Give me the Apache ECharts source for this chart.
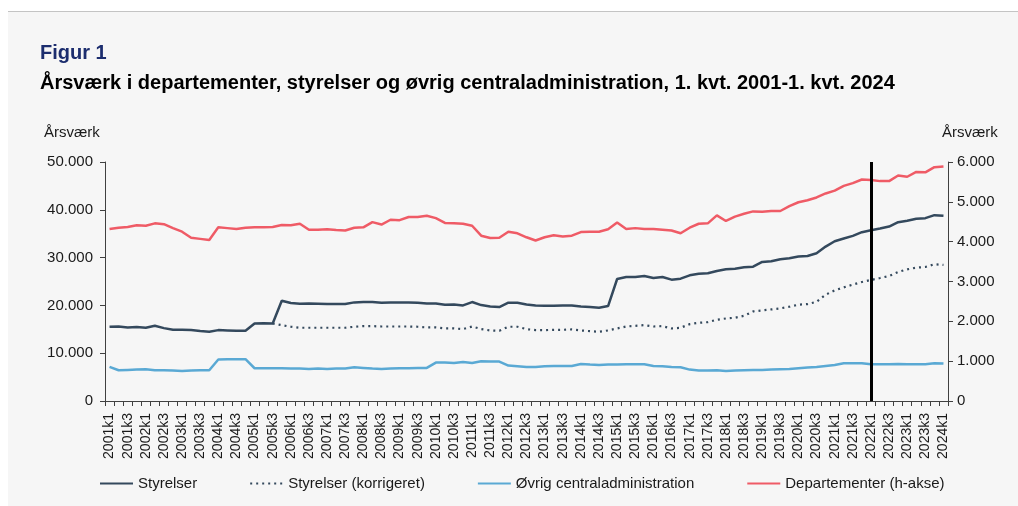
<!DOCTYPE html>
<html>
<head>
<meta charset="utf-8">
<script src="https://cdn.jsdelivr.net/npm/echarts@6/dist/echarts.min.js"></script>
<style>
html,body{margin:0;padding:0;background:#fff;}
#chart{width:1018px;height:506px;}
</style>
</head>
<body>
<div id="chart"></div>
<script>
const years = [];
for (let y = 2001; y <= 2024; y++) years.push(y);
const quarters = ['k1','k2','k3','k4'];
const categories = [];
years.forEach(y => quarters.forEach(q => { if (!(y === 2024 && q !== 'k1')) categories.push(y + q); }));

const styrelser = [
  15530, 15590, 15390, 15460, 15320, 15730, 15250, 14900, 14900, 14830, 14620, 14480, 14830, 14760, 14690, 14690, 16220, 16290, 16220, 20980, 20490, 20350, 20420,
  20350, 20280, 20280, 20280, 20630, 20700, 20700, 20560, 20630, 20630, 20630, 20560, 20420, 20420, 20140, 20210, 20000, 20700, 20070, 19790, 19650, 20560, 20560,
  20210, 20000, 19930, 19930, 20000, 20000, 19790, 19650, 19510, 19860, 25520, 25940, 25940, 26150, 25730, 25940, 25390, 25590, 26290, 26640, 26710, 27200, 27550,
  27690, 27970, 28110, 29090, 29230, 29650, 29860, 30210, 30350, 30910, 32310, 33430, 33990, 34550, 35320, 35730, 36080, 36500, 37410, 37690, 38110, 38250, 38880, 38740
];
const styrelserKorr = [
  '-', '-', '-', '-', '-', '-', '-', '-', '-', '-', '-', '-', '-', '-', '-', '-', '-', '-', 16220, 15870, 15530, 15320, 15320,
  15320, 15320, 15320, 15320, 15530, 15660, 15660, 15590, 15590, 15590, 15590, 15530, 15390, 15390, 15180, 15180, 15040, 15590, 15040, 14760, 14690, 15530, 15530,
  15040, 14830, 14830, 14900, 14900, 14970, 14760, 14620, 14480, 14760, 15180, 15590, 15730, 15870, 15590, 15660, 15180, 15320, 16080, 16360, 16500, 16990, 17270,
  17410, 17830, 18740, 18950, 19160, 19370, 19720, 20140, 20280, 20770, 22240, 23150, 23780, 24340, 24900, 25320, 25730, 26150, 26990, 27550, 27900, 28040, 28600, 28460
];
const oevrig = [
  7130, 6430, 6500, 6570, 6640, 6430, 6430, 6360, 6290, 6360, 6430, 6430, 8670, 8740, 8740, 8740, 6850, 6850, 6850, 6850, 6780, 6780, 6710,
  6780, 6710, 6780, 6780, 7060, 6920, 6780, 6710, 6780, 6850, 6850, 6920, 6920, 8040, 8040, 7970, 8180, 7970, 8320, 8250, 8250, 7410, 7270,
  7130, 7130, 7270, 7340, 7340, 7340, 7760, 7620, 7550, 7620, 7620, 7690, 7690, 7690, 7340, 7270, 7130, 7060, 6570, 6360, 6360, 6430, 6290,
  6360, 6430, 6500, 6500, 6570, 6640, 6710, 6850, 6990, 7130, 7340, 7550, 7900, 7900, 7900, 7690, 7690, 7690, 7760, 7690, 7690, 7690, 7900, 7830
];
const departementer = [
  4320, 4350, 4370, 4410, 4400, 4460, 4440, 4340, 4250, 4100, 4070, 4040, 4360, 4340, 4320, 4350, 4360, 4360, 4370, 4420, 4410, 4450, 4300,
  4300, 4310, 4290, 4280, 4350, 4360, 4490, 4430, 4550, 4540, 4620, 4620, 4650, 4590, 4470, 4460, 4450, 4400, 4150, 4090, 4100, 4250, 4210,
  4110, 4030, 4110, 4160, 4130, 4150, 4240, 4250, 4250, 4310, 4480, 4320, 4340, 4320, 4320, 4300, 4280, 4210, 4350, 4450, 4460, 4660, 4520,
  4630, 4700, 4760, 4750, 4770, 4770, 4890, 4990, 5040, 5110, 5210, 5280, 5400, 5470, 5560, 5550, 5520, 5520, 5660, 5630, 5750, 5740, 5870, 5890
];
const markerCategory = '2022k1';
const seriesNames = ['Styrelser', 'Styrelser (korrigeret)', 'Øvrig centraladministration', 'Departementer (h-akse)'];

const FONT = '"Liberation Sans", Arial, sans-serif';
const axisColor = '#404040';
const textColor = '#1a1a1a';
const fmt = v => String(v).replace(/\B(?=(\d{3})+(?!\d))/g, '.');

const chart = echarts.init(document.getElementById('chart'), null, {renderer: 'canvas'});
chart.setOption({
  animation: false,
  backgroundColor: '#ffffff',
  textStyle: {fontFamily: FONT},
  graphic: [
    {type: 'rect', z: -10, shape: {x: 8, y: 11, width: 1010, height: 495}, style: {fill: '#f6f6f6'}},
    {type: 'line', z: -9, shape: {x1: 8, y1: 11.5, x2: 1018, y2: 11.5}, style: {stroke: '#c4c4c4', lineWidth: 1}},
    {type: 'text', left: 40, top: 43, style: {text: 'Figur 1', font: 'bold 20px ' + FONT, fill: '#1c2d6e'}},
    {type: 'text', left: 40, top: 73, style: {text: 'Årsværk i departementer, styrelser og øvrig centraladministration, 1. kvt. 2001-1. kvt. 2024', font: 'bold 20px ' + FONT, fill: '#000'}},
    {type: 'text', left: 44, top: 125, style: {text: 'Årsværk', font: '15px ' + FONT, fill: textColor}},
    {type: 'text', left: 942, top: 125, style: {text: 'Årsværk', font: '15px ' + FONT, fill: textColor}}
  ],
  legend: {
    bottom: 10,
    left: 94,
    itemGap: 52,
    itemWidth: 33,
    itemHeight: 10,
    itemStyle: {opacity: 0},
    textStyle: {fontSize: 15, color: textColor, fontFamily: FONT},
    data: seriesNames
  },
  grid: {left: 105, right: 70, top: 162, bottom: 105, containLabel: false},
  xAxis: {
    type: 'category',
    data: categories,
    boundaryGap: true,
    axisLine: {lineStyle: {color: axisColor, width: 1}},
    axisTick: {show: true, interval: 0, length: 5, lineStyle: {color: axisColor}},
    axisLabel: {interval: 1, rotate: 90, fontSize: 14, color: textColor, margin: 12, fontFamily: FONT},
    splitLine: {show: false}
  },
  yAxis: [
    {
      type: 'value', min: 0, max: 50000, interval: 10000, position: 'left',
      axisLine: {show: true, lineStyle: {color: axisColor}},
      axisTick: {show: true, length: 5, lineStyle: {color: axisColor}},
      axisLabel: {fontSize: 15, color: textColor, margin: 12, formatter: fmt, fontFamily: FONT},
      splitLine: {show: false}
    },
    {
      type: 'value', min: 0, max: 6000, interval: 1000, position: 'right',
      axisLine: {show: true, lineStyle: {color: axisColor}},
      axisTick: {show: true, length: 5, lineStyle: {color: axisColor}},
      axisLabel: {fontSize: 15, color: textColor, margin: 9, formatter: fmt, fontFamily: FONT},
      splitLine: {show: false}
    }
  ],
  series: [
    {
      name: seriesNames[0], type: 'line', data: styrelser, yAxisIndex: 0, symbol: 'none',
      lineStyle: {color: '#34495d', width: 2.5}, itemStyle: {color: '#34495d'}, z: 4,
      markLine: {
        silent: true, symbol: ['none', 'none'], label: {show: false},
        lineStyle: {color: '#000', width: 3, type: 'solid'},
        data: [{xAxis: markerCategory}]
      }
    },
    {
      name: seriesNames[1], type: 'line', data: styrelserKorr, yAxisIndex: 0, symbol: 'none',
      lineStyle: {color: '#34495d', width: 2.2, type: [2, 4]}, itemStyle: {color: '#34495d'}, z: 3
    },
    {
      name: seriesNames[2], type: 'line', data: oevrig, yAxisIndex: 0, symbol: 'none',
      lineStyle: {color: '#5aa9d4', width: 2.5}, itemStyle: {color: '#5aa9d4'}, z: 3
    },
    {
      name: seriesNames[3], type: 'line', data: departementer, yAxisIndex: 1, symbol: 'none',
      lineStyle: {color: '#ef5b66', width: 2.5}, itemStyle: {color: '#ef5b66'}, z: 3
    }
  ]
});
</script>
</body>
</html>
